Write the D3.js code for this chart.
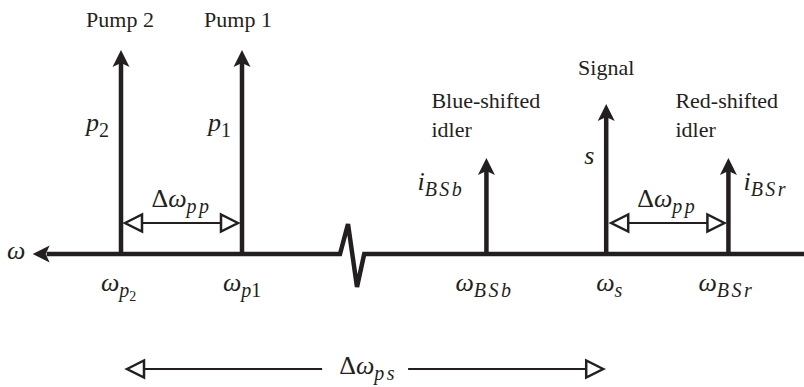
<!DOCTYPE html>
<html><head><meta charset="utf-8">
<script src="https://cdn.jsdelivr.net/npm/d3@7"></script>
<style>body{margin:0;background:#fff} svg{display:block}</style>
</head><body>
<svg id="c" width="804" height="387"></svg>
<script>
// ---- data ----
const lines      = ["p2", "p1", "BSb", "s", "BSr"];
const positions  = [0, 1, 3.02, 4.01, 5.02];          // relative frequency position (axis runs leftwards)
const amplitudes = [1, 1, 0.47, 0.735, 0.47];         // relative line heights
const topLabels  = [["Pump 2"], ["Pump 1"], ["Blue-shifted", "idler"], ["Signal"], ["Red-shifted", "idler"]];
const ampLabels  = [
  [{t:"p",it:1},{t:"2",l:1}],
  [{t:"p",it:1},{t:"1",l:1}],
  [{t:"i",it:1},{t:"BSb",it:1,l:1}],
  [{t:"s",it:1}],
  [{t:"i",it:1},{t:"BSr",it:1,l:1}]
];
const freqLabels = [
  [{t:"ω",it:1},{t:"p",it:1,l:1},{t:"2",l:2}],
  [{t:"ω",it:1},{t:"p",it:1,l:1},{t:"1",l:1}],
  [{t:"ω",it:1},{t:"BSb",it:1,l:1}],
  [{t:"ω",it:1},{t:"s",it:1,l:1}],
  [{t:"ω",it:1},{t:"BSr",it:1,l:1}]
];
const axisDomain = [-0.73, 5.65];
const breakSpan  = [1.81, 2.01];
const dwppLabel  = [{t:"Δ"},{t:"ω",it:1},{t:"pp",it:1,l:1}];
const dwpsLabel  = [{t:"Δ"},{t:"ω",it:1},{t:"ps",it:1,l:1}];

// ---- scales ----
const x = d3.scaleLinear().domain([0, 1]).range([121, 242]);
const y = d3.scaleLinear().domain([0, 1]).range([254, 50]);
const INK = "#231f20";
const FONT = '"Liberation Serif"';
const svg = d3.select("#c");

function mathText(x0, y0, parts, anchor) {
  const sizes = [26, 20, 14], offs = [0, 6, 10], ls = [0, 2.5, 0];
  const t = svg.append("text").attr("x", x0).attr("y", y0)
    .attr("fill", INK).style("font-family", FONT).style("font-size", "26px")
    .attr("text-anchor", anchor || "start");
  let prev = 0;
  parts.forEach((p, i) => {
    const lv = p.l || 0;
    const last = i === parts.length - 1;
    t.append("tspan").text(p.t)
      .style("font-size", sizes[lv] + "px")
      .style("font-style", p.it ? "italic" : "normal")
      .style("letter-spacing", (lv === 1 && p.t.length > 1 && !/\d/.test(p.t)) ? ls[1] + "px" : "0px")
      .attr("dy", offs[lv] - offs[prev]);
    prev = lv;
  });
  return t;
}

const y0 = y(0);

// ---- frequency axis with break ----
const zig = [
  [x(axisDomain[0]) + 14, y0],
  [x(breakSpan[0]), y0],
  [x(breakSpan[0]) + 8, y0 - 30],
  [x(breakSpan[0]) + 17, y0 + 33],
  [x(breakSpan[1]), y0],
  [x(axisDomain[1]), y0]
];
svg.append("path").attr("d", d3.line()(zig))
  .attr("fill", "none").attr("stroke", INK).attr("stroke-width", 4.5)
  .attr("stroke-linejoin", "miter");
const tipX = x(axisDomain[0]);
svg.append("path")
  .attr("d", `M${tipX},${y0} L${tipX+17},${y0-8.5} L${tipX+13},${y0} L${tipX+17},${y0+8.5} Z`)
  .attr("fill", INK);
mathText(7, y0 + 5, [{t:"ω",it:1}]);

// ---- spectral lines ----
lines.forEach((k, i) => {
  const xi = x(positions[i]), yt = y(amplitudes[i]);
  svg.append("line").attr("x1", xi).attr("x2", xi)
    .attr("y1", y0).attr("y2", yt + 12)
    .attr("stroke", INK).attr("stroke-width", 4.5);
  svg.append("path")
    .attr("d", `M${xi},${yt} L${xi+8.5},${yt+17} L${xi},${yt+13} L${xi-8.5},${yt+17} Z`)
    .attr("fill", INK);
});

// top text labels
const topPos = [
  {dx:-1, y:[27], a:"middle"},
  {dx:-4, y:[27], a:"middle"},
  {dx:-55, y:[108, 137], a:"start"},
  {dx:0, y:[75], a:"middle"},
  {dx:-53, y:[108, 137], a:"start"}
];
topLabels.forEach((ls, i) => {
  ls.forEach((s, j) => {
    svg.append("text").attr("x", x(positions[i]) + topPos[i].dx).attr("y", topPos[i].y[j])
      .attr("text-anchor", topPos[i].a)
      .style("font-family", FONT).style("font-size", "22px")
      .attr("fill", INK).text(s);
  });
});

// amplitude labels
const ampPos = [{dx:-35, y:131}, {dx:-34, y:131}, {dx:-69, y:190}, {dx:-22, y:164}, {dx:15, y:190}];
ampLabels.forEach((p, i) => mathText(x(positions[i]) + ampPos[i].dx, ampPos[i].y, p));

// frequency labels
const fPos = [-20, -19, -31, -10, -30];
freqLabels.forEach((p, i) => mathText(x(positions[i]) + fPos[i], 291, p));

// ---- double arrows ----
function dblArrow(xa, xb, yy, gap) {
  const hl = 17, hh = 8.5;
  const g = svg.append("g").attr("stroke", INK).attr("fill", "#fff");
  if (gap) {
    const m = (xa + xb) / 2;
    g.append("line").attr("x1", xa + hl).attr("x2", m - gap).attr("y1", yy).attr("y2", yy).attr("stroke-width", 2);
    g.append("line").attr("x1", m + gap).attr("x2", xb - hl).attr("y1", yy).attr("y2", yy).attr("stroke-width", 2);
  } else {
    g.append("line").attr("x1", xa + hl).attr("x2", xb - hl).attr("y1", yy).attr("y2", yy).attr("stroke-width", 2);
  }
  g.append("path").attr("d", `M${xa},${yy} L${xa+hl},${yy-hh} L${xa+hl},${yy+hh} Z`).attr("stroke-width", 2.5);
  g.append("path").attr("d", `M${xb},${yy} L${xb-hl},${yy-hh} L${xb-hl},${yy+hh} Z`).attr("stroke-width", 2.5);
}
dblArrow(x(positions[0]) + 4, x(positions[1]) - 4, 223);
mathText((x(positions[0]) + x(positions[1])) / 2, 207, dwppLabel, "middle");
dblArrow(x(positions[3]) + 5, x(positions[4]) - 4, 223);
mathText((x(positions[3]) + x(positions[4])) / 2, 207, dwppLabel, "middle");

const bx0 = x(positions[0]) + 6, bx1 = x(positions[3]) - 3;
dblArrow(bx0, bx1, 369, 43);
mathText((bx0 + bx1) / 2 + 3, 374, dwpsLabel, "middle");
</script>
</body></html>
